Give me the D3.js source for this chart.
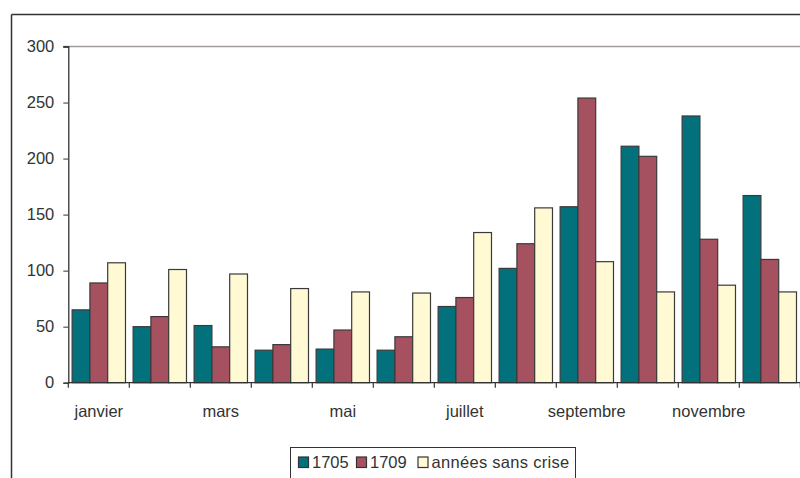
<!DOCTYPE html>
<html>
<head>
<meta charset="utf-8">
<script src="https://cdn.jsdelivr.net/npm/d3@7"></script>
<style>
  html, body { margin: 0; padding: 0; background: #fff; }
  svg { display: block; }
  text { font-family: "Liberation Sans", Arial, sans-serif; fill: #333; }
</style>
</head>
<body>
<script>
const months = ["janvier","février","mars","avril","mai","juin","juillet","août","septembre","octobre","novembre","décembre"];
const monthLabels = ["janvier","","mars","","mai","","juillet","","septembre","","novembre",""];
const seriesNames = ["1705","1709","années sans crise"];
const values1705 = [65, 50, 51, 29, 30, 29, 68, 102, 157, 211, 238, 167];
const values1709 = [89, 59, 32, 34, 47, 41, 76, 124, 254, 202, 128, 110];
const valuesSansCrise = [107, 101, 97, 84, 81, 80, 134, 156, 108, 81, 87, 81];
const colors = ["#02717c", "#a5515f", "#fffad3"];
const yTicks = [0, 50, 100, 150, 200, 250, 300];

(function () {
const W = 800, H = 478;
const svg = d3.select("body").append("svg").attr("width", W).attr("height", H);

// outer frame (only left & top visible)
svg.append("line").attr("x1", 11.5).attr("x2", 11.5).attr("y1", 14.5).attr("y2", H)
  .attr("stroke", "#333").attr("stroke-width", 1.5);
svg.append("line").attr("x1", 11.5).attr("x2", W).attr("y1", 14.5).attr("y2", 14.5)
  .attr("stroke", "#333").attr("stroke-width", 1.5);

const pLeft = 68.3, pRight = 800.3, pTop = 46.5, pBottom = 382.7;
const y = d3.scaleLinear().domain([0, 300]).range([pBottom, pTop]);
const x0 = d3.scaleBand().domain(months).range([pLeft, pRight]).paddingInner(0.125).paddingOuter(0.0625);
const x1 = d3.scaleBand().domain(seriesNames).range([0, x0.bandwidth()]);

const data = months.map((m, i) => ({ month: m, vals: [values1705[i], values1709[i], valuesSansCrise[i]] }));

// top gridline at 300
svg.append("line").attr("x1", pLeft - 5).attr("x2", W).attr("y1", y(300)).attr("y2", y(300))
  .attr("stroke", "#a39a9a").attr("stroke-width", 1.3);

// bars
const g = svg.append("g");
g.selectAll("g.grp").data(data).join("g").attr("class", "grp")
  .attr("transform", d => `translate(${x0(d.month)},0)`)
  .selectAll("rect").data(d => d.vals.map((v, k) => ({ v, k })))
  .join("rect")
  .attr("x", d => x1(seriesNames[d.k]))
  .attr("y", d => y(d.v))
  .attr("width", x1.bandwidth())
  .attr("height", d => y(0) - y(d.v))
  .attr("fill", d => colors[d.k])
  .attr("stroke", "#3a3a3a").attr("stroke-width", 1.2);

// y axis
const yAxis = d3.axisLeft(y).tickValues(yTicks).tickSize(5).tickPadding(9);
const ya = svg.append("g").attr("transform", `translate(${pLeft},0)`).call(yAxis);
ya.select(".domain").attr("stroke", "#333").attr("stroke-width", 1.3);
ya.selectAll(".tick line").attr("stroke", "#333");
ya.selectAll("text").attr("font-size", "16.5px").attr("fill", "#333")
  .attr("font-family", "Liberation Sans, Arial, sans-serif");

// x axis line
svg.append("line").attr("x1", pLeft).attr("x2", W).attr("y1", y(0)).attr("y2", y(0))
  .attr("stroke", "#333").attr("stroke-width", 1.3);
// x ticks at band boundaries
const step = x0.step();
const bounds = months.map(m => x0(m) - step * x0.paddingInner() / 2).concat([pRight]);
svg.selectAll("line.xt").data(bounds).join("line").attr("class", "xt")
  .attr("x1", d => d).attr("x2", d => d).attr("y1", y(0)).attr("y2", y(0) + 5)
  .attr("stroke", "#333").attr("stroke-width", 1.2);
// x labels
svg.selectAll("text.xl").data(months).join("text").attr("class", "xl")
  .attr("x", d => x0(d) + x0.bandwidth() / 2)
  .attr("y", 417)
  .attr("text-anchor", "middle")
  .attr("font-size", "16.5px")
  .text((d, i) => monthLabels[i]);

// legend
const lg = svg.append("g");
lg.append("rect").attr("x", 290.5).attr("y", 447.5).attr("width", 285).attr("height", 40)
  .attr("fill", "#fff").attr("stroke", "#333").attr("stroke-width", 1);
const legendX = [298.5, 356.5, 418];
const legendTextX = [312, 370, 431.5];
seriesNames.forEach((s, k) => {
  lg.append("rect").attr("x", legendX[k]).attr("y", 457).attr("width", 10).attr("height", 10.5)
    .attr("fill", colors[k]).attr("stroke", "#333").attr("stroke-width", 1.2);
  lg.append("text").attr("x", legendTextX[k]).attr("y", 468).attr("font-size", "16.5px")
    .attr("letter-spacing", k === 2 ? "0.3px" : "0px").text(s);
});
})();
</script>
</body>
</html>
